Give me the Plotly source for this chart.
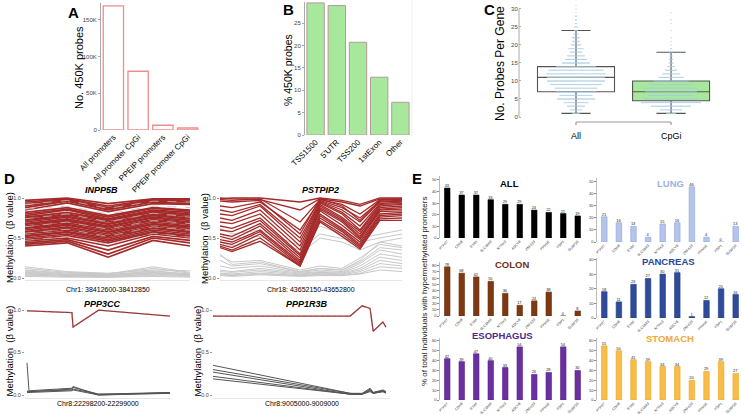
import plotly.graph_objects as go

W, H = 744, 415
FONT = "Liberation Sans"

# ---------------- Panel A ----------------
a_categories = ["All promoters", "All promoter CpGi", "PPEIP promoters", "PPEIP promoter CpGi"]
a_values = [169000, 80000, 6500, 2700]

# ---------------- Panel B ----------------
b_categories = ["TSS1500", "5'UTR", "TSS200", "1stExon", "Other"]
b_values = [29.5, 28.9, 20.7, 12.9, 7.3]

# ---------------- Panel C ----------------
c_groups = ["All", "CpGi"]
c_q1 = [7, 4.5]
c_median = [11, 7]
c_q3 = [14, 10]
c_lower = [1, 1]
c_upper = [24, 18]
c_all_values = list(range(1, 32))
c_all_counts = [8, 12, 18, 25, 38, 33, 40, 43, 52, 58, 58, 60, 55, 40, 28, 22, 18, 12, 15, 10,
                8, 8, 5, 4, 3, 2, 2, 2, 1, 1, 1]
c_cpgi_values = [1, 2, 3, 4, 5, 6, 7, 8, 9, 10, 11, 12, 13, 14, 15, 16, 17, 18, 19, 20, 21, 22, 24, 26, 27, 29]
c_cpgi_counts = [10, 22, 40, 60, 55, 45, 52, 55, 45, 35, 25, 18, 12, 8, 5, 4, 3, 3, 2, 1, 1, 1, 1, 1, 1, 1]

# ---------------- Panel D ----------------
inpp5b_pos = [38412600, 38412664, 38412726, 38412794, 38412850]
inpp5b_red = [
    [0.97, 1.00, 0.93, 0.99, 0.99], [0.95, 0.99, 0.90, 0.98, 0.98], [0.93, 0.98, 0.88, 0.97, 0.96],
    [0.90, 0.97, 0.86, 0.96, 0.95], [0.88, 0.96, 0.85, 0.95, 0.93], [0.85, 0.94, 0.83, 0.93, 0.92],
    [0.82, 0.88, 0.78, 0.88, 0.85], [0.80, 0.86, 0.76, 0.87, 0.84], [0.78, 0.85, 0.74, 0.85, 0.82],
    [0.76, 0.82, 0.73, 0.84, 0.80], [0.75, 0.80, 0.72, 0.82, 0.79], [0.73, 0.79, 0.70, 0.80, 0.77],
    [0.72, 0.77, 0.68, 0.79, 0.75], [0.70, 0.76, 0.67, 0.78, 0.74], [0.68, 0.74, 0.65, 0.76, 0.72],
    [0.67, 0.72, 0.64, 0.75, 0.70], [0.65, 0.71, 0.62, 0.73, 0.69], [0.63, 0.69, 0.60, 0.72, 0.67],
    [0.62, 0.67, 0.58, 0.70, 0.65], [0.60, 0.66, 0.57, 0.68, 0.64], [0.58, 0.64, 0.55, 0.67, 0.62],
    [0.57, 0.62, 0.53, 0.65, 0.60], [0.55, 0.60, 0.52, 0.63, 0.58], [0.53, 0.58, 0.50, 0.62, 0.57],
    [0.52, 0.57, 0.48, 0.60, 0.55], [0.50, 0.55, 0.46, 0.58, 0.53], [0.48, 0.53, 0.44, 0.57, 0.52],
    [0.46, 0.50, 0.40, 0.55, 0.50], [0.44, 0.48, 0.35, 0.52, 0.47], [0.42, 0.46, 0.30, 0.50, 0.44],
    [0.40, 0.44, 0.26, 0.47, 0.40],
]
inpp5b_gray = [
    [0.14, 0.08, 0.06, 0.10, 0.09], [0.12, 0.07, 0.05, 0.14, 0.07], [0.10, 0.06, 0.05, 0.12, 0.06],
    [0.09, 0.05, 0.04, 0.09, 0.05], [0.08, 0.04, 0.04, 0.08, 0.05], [0.07, 0.04, 0.03, 0.07, 0.04],
    [0.06, 0.03, 0.03, 0.06, 0.04], [0.05, 0.03, 0.02, 0.05, 0.03], [0.04, 0.02, 0.02, 0.04, 0.03],
    [0.03, 0.02, 0.01, 0.03, 0.02], [0.02, 0.01, 0.01, 0.02, 0.01],
]
inpp5b_gray_hi = [
    [0.86, 0.90, 0.80, 0.90, 0.88], [0.74, 0.80, 0.70, 0.81, 0.76], [0.64, 0.70, 0.61, 0.72, 0.68],
    [0.56, 0.61, 0.52, 0.64, 0.60], [0.47, 0.52, 0.42, 0.56, 0.51], [0.92, 0.97, 0.87, 0.96, 0.95],
]

pstpip2_pos = [43652150, 43652193, 43652293, 43652436, 43652507, 43652586, 43652650, 43652721, 43652800]
pstpip2_red = [
    [1.00, 0.99, 0.98, 0.85, 0.99, 0.95, 0.90, 0.99, 0.99], [0.98, 0.97, 0.99, 0.70, 0.98, 0.92, 0.80, 0.98, 0.98],
    [0.90, 0.88, 0.95, 0.60, 0.97, 0.88, 0.75, 0.96, 0.97], [0.85, 0.82, 0.92, 0.50, 0.96, 0.85, 0.70, 0.95, 0.96],
    [0.80, 0.78, 0.90, 0.45, 0.95, 0.82, 0.65, 0.93, 0.95], [0.75, 0.72, 0.85, 0.40, 0.94, 0.80, 0.60, 0.92, 0.93],
    [0.70, 0.68, 0.80, 0.35, 0.92, 0.76, 0.58, 0.90, 0.92], [0.65, 0.62, 0.75, 0.30, 0.90, 0.74, 0.55, 0.88, 0.90],
    [0.60, 0.58, 0.72, 0.28, 0.88, 0.72, 0.52, 0.86, 0.88], [0.55, 0.52, 0.68, 0.25, 0.86, 0.70, 0.50, 0.85, 0.86],
    [0.52, 0.48, 0.65, 0.22, 0.84, 0.66, 0.48, 0.83, 0.84], [0.48, 0.45, 0.60, 0.20, 0.80, 0.62, 0.45, 0.80, 0.82],
    [0.45, 0.42, 0.58, 0.18, 0.78, 0.60, 0.42, 0.78, 0.80], [0.42, 0.38, 0.55, 0.16, 0.75, 0.58, 0.40, 0.76, 0.78],
    [0.40, 0.35, 0.50, 0.15, 0.72, 0.55, 0.38, 0.74, 0.75], [0.38, 0.33, 0.46, 0.15, 0.70, 0.52, 0.36, 0.72, 0.72],
    [0.99, 1.00, 1.00, 0.95, 1.00, 0.97, 0.92, 1.00, 1.00], [0.96, 0.95, 0.97, 0.55, 0.99, 0.90, 0.72, 0.97, 0.99],
]
pstpip2_gray = [
    [0.30, 0.17, 0.20, 0.08, 0.12, 0.10, 0.22, 0.45, 0.40], [0.28, 0.20, 0.22, 0.10, 0.15, 0.12, 0.25, 0.42, 0.38],
    [0.22, 0.15, 0.18, 0.08, 0.12, 0.10, 0.20, 0.38, 0.35], [0.15, 0.12, 0.15, 0.07, 0.10, 0.08, 0.18, 0.35, 0.30],
    [0.10, 0.08, 0.12, 0.06, 0.08, 0.07, 0.15, 0.30, 0.26], [0.08, 0.07, 0.10, 0.05, 0.07, 0.06, 0.12, 0.26, 0.22],
    [0.06, 0.05, 0.08, 0.04, 0.06, 0.05, 0.10, 0.22, 0.18], [0.05, 0.04, 0.06, 0.03, 0.05, 0.04, 0.08, 0.18, 0.15],
    [0.04, 0.03, 0.05, 0.03, 0.04, 0.03, 0.06, 0.14, 0.12], [0.03, 0.02, 0.04, 0.02, 0.03, 0.03, 0.05, 0.10, 0.08],
    [0.62, 0.55, 0.60, 0.40, 0.65, 0.55, 0.50, 0.55, 0.60], [0.55, 0.50, 0.52, 0.35, 0.55, 0.50, 0.45, 0.50, 0.55],
    [0.45, 0.40, 0.45, 0.30, 0.50, 0.45, 0.35, 0.45, 0.50],
]

ppp3cc_pos = [22298211, 22298222, 22298459, 22298465, 22298606, 22299000]
ppp3cc_red = [[0.99, 0.99, 0.97, 0.80, 1.00, 0.93]]
ppp3cc_gray = [
    [0.38, 0.05, 0.08, 0.10, 0.00, 0.03], [0.05, 0.04, 0.07, 0.09, 0.01, 0.03],
    [0.04, 0.04, 0.06, 0.07, 0.01, 0.02], [0.03, 0.03, 0.05, 0.06, 0.00, 0.02],
]

ppp1r3b_pos = [9005000, 9008100, 9008370, 9008550, 9008620, 9008840, 9008910]
ppp1r3b_red = [[0.93, 0.93, 1.05, 1.02, 0.75, 0.86, 0.80]]
ppp1r3b_gray = [
    [0.35, 0.02, 0.02, 0.08, 0.03, 0.06, 0.04], [0.30, 0.02, 0.01, 0.07, 0.03, 0.05, 0.04],
    [0.27, 0.01, 0.01, 0.06, 0.02, 0.05, 0.03], [0.22, 0.01, 0.01, 0.05, 0.02, 0.04, 0.03],
    [0.19, 0.01, 0.01, 0.04, 0.02, 0.04, 0.02],
]

# ---------------- Panel E ----------------
e_genes_1 = ["PTPRT", "CDH8", "EYA4", "SLC18A3", "NTRK3", "ADCY8", "ZNF423", "PPM1E", "PDP1", "DUSP26"]
e_all = [43, 37, 37, 33, 29, 29, 24, 22, 21, 19]
e_colon = [78, 68, 62, 55, 36, 17, 24, 38, 0, 8]
e_esophagus = [42, 39, 47, 40, 33, 54, 26, 28, 54, 30]
e_genes_2 = ["PTPRT", "CDH8", "EYA4", "SLC18A3", "NTRK3", "ADCY8", "ZNF423", "PPM1E", "PDP1", "DUSP26"]
e_lung = [21, 16, 13, 4, 15, 16, 46, 4, 0, 13]
e_pancreas = [18, 11, 23, 27, 30, 31, 1, 12, 20, 16]
e_stomach = [55, 50, 41, 39, 34, 34, 20, 29, 39, 27]


def dx(x0, x1):
    return [x0 / W, x1 / W]


def dy(y0, y1):
    return [1 - y1 / H, 1 - y0 / H]


def py(y):
    return 1 - y / H


def px(x):
    return x / W


fig = go.Figure()
layout = dict(
    template="none",
    width=W, height=H, margin=dict(l=0, r=0, t=0, b=0, pad=0, autoexpand=False),
    paper_bgcolor="white", plot_bgcolor="white", showlegend=False,
    font=dict(family=FONT, color="black"),
    bargap=0.2,
)
ann = []
shapes = []


def note(x, y, text, size, color="black", angle=0, xref="paper"):
    ann.append(dict(x=x, y=py(y), xref=xref, yref="paper", text=text, textangle=angle, showarrow=False,
                    xanchor="center", yanchor="middle", font=dict(size=size, color=color)))


# ---- A
fig.add_trace(go.Bar(x=a_categories, y=a_values, xaxis="x", yaxis="y",
                     marker=dict(color="white", line=dict(color="#f08c8c", width=1.3)),
                     width=0.82, hoverinfo="skip"))
layout["xaxis"] = dict(domain=dx(101, 200), anchor="y", tickangle=-45, tickfont=dict(size=8),
                       showline=False, ticks="", showgrid=False, automargin=False)
layout["yaxis"] = dict(domain=dy(3, 130), anchor="x", range=[0, 173000], tickvals=[0, 50000, 100000, 150000],
                       ticktext=["0", "50K", "100K", "150K"], tickfont=dict(size=6, color="#444"),
                       showline=True, linecolor="#aaa", ticks="outside", ticklen=2, tickcolor="#aaa",
                       showgrid=False, zeroline=False, automargin=False)
note(px(79), 68, "No. 450K probes", 11, angle=-90)
note(px(73), 12, "<b>A</b>", 15)

# ---- B
fig.add_trace(go.Bar(x=b_categories, y=b_values, xaxis="x2", yaxis="y2",
                     marker=dict(color="#a8e89c", line=dict(color="#b49a9a", width=1)),
                     width=0.82, hoverinfo="skip"))
layout["xaxis2"] = dict(domain=dx(305, 411), anchor="y2", tickangle=-45, tickfont=dict(size=8),
                        showline=False, ticks="", showgrid=False, automargin=False)
layout["yaxis2"] = dict(domain=dy(2, 135), anchor="x2", range=[0, 29.7], tickvals=[0, 5, 10, 15, 20, 25],
                        tickfont=dict(size=6, color="#444"), showline=True, linecolor="#aaa",
                        ticks="outside", ticklen=2, tickcolor="#aaa", showgrid=False, zeroline=False,
                        automargin=False)
shapes.append(dict(type="line", xref="paper", yref="paper", x0=px(412), x1=px(412), y0=py(0), y1=py(135),
                   line=dict(color="#eeeeee", width=1)))
note(px(288), 70, "% 450K probes", 10.5, angle=-90)
note(px(288), 10, "<b>B</b>", 15)

# ---- C
box_fill = ["white", "#a8e89c"]
for i in range(2):
    fig.add_trace(go.Box(x=[i], q1=[c_q1[i]], median=[c_median[i]], q3=[c_q3[i]],
                         lowerfence=[c_lower[i]], upperfence=[c_upper[i]], xaxis="x3", yaxis="y3",
                         width=0.81, whiskerwidth=0.38, fillcolor=box_fill[i],
                         line=dict(color="#555", width=1.1), boxpoints=False, hoverinfo="skip"))


def swarm(center, values, counts, step=0.0105):
    xs, ys = [], []
    for v, n in zip(values, counts):
        for k in range(n):
            xs.append(center + (k - (n - 1) / 2) * step)
            ys.append(v)
    return xs, ys


for i, (vals, cnts) in enumerate([(c_all_values, c_all_counts), (c_cpgi_values, c_cpgi_counts)]):
    sx, sy = swarm(i, vals, cnts)
    fig.add_trace(go.Scatter(x=sx, y=sy, mode="markers", xaxis="x3", yaxis="y3",
                             marker=dict(size=1.3, color="#a6c9e2", opacity=0.85), hoverinfo="skip"))
layout["xaxis3"] = dict(domain=dx(522, 730), anchor="y3", range=[-0.568, 1.62], visible=False)
layout["yaxis3"] = dict(domain=dy(5, 117), anchor="x3", range=[0, 31.1], tickvals=[0, 5, 10, 15, 20, 25, 30],
                        tickfont=dict(size=6, color="#444"), showline=False, ticks="outside", ticklen=2,
                        tickcolor="#aaa", showgrid=False, zeroline=False, automargin=False)
shapes.append(dict(type="line", xref="paper", yref="paper", x0=px(519), x1=px(519), y0=py(9), y1=py(117),
                   line=dict(color="#aaa", width=1)))
shapes.append(dict(type="line", xref="x3", yref="paper", x0=0, x1=1, y0=py(122), y1=py(122),
                   line=dict(color="#999", width=1.2)))
for i in range(2):
    shapes.append(dict(type="line", xref="x3", yref="paper", x0=i, x1=i, y0=py(122), y1=py(125),
                       line=dict(color="#999", width=1.2)))
    note(i, 136, c_groups[i], 9, xref="x3")
note(px(500), 63, "No. Probes Per Gene", 12, angle=-90)
note(px(489), 10, "<b>C</b>", 15)


# ---- D
def lines_xy(pos, rows):
    xs, ys = [], []
    for r in rows:
        xs += list(pos) + [None]
        ys += list(r) + [None]
    return xs, ys


RED = "#a52a2a"
GRAY = "#c8c8c8"
d_specs = [
    ("x4", "y4", inpp5b_pos, inpp5b_red, inpp5b_gray, inpp5b_gray_hi, "INPP5B", "Chr1: 38412600-38412850",
     (25, 190), (196, 280), [38412600, 38412850], [-0.025, 1.025], 190, 289, 102),
    ("x5", "y5", pstpip2_pos, pstpip2_red, pstpip2_gray, [], "PSTPIP2", "Chr18: 43652150-43652800",
     (220, 402), (196, 280), [43652150, 43652800], [-0.025, 1.025], 190, 289, 320),
    ("x6", "y6", ppp3cc_pos, ppp3cc_red, ppp3cc_gray, [], "PPP3CC", "Chr8:22298200-22299000",
     (25, 170), (305, 398), [22298200, 22299000], [-0.035, 1.06], 304, 403, 103),
    ("x7", "y7", ppp1r3b_pos, ppp1r3b_red, ppp1r3b_gray, [], "PPP1R3B", "Chr8:9005000-9009000",
     (213, 390), (305, 398), [9005000, 9009000], [-0.035, 1.06], 304, 403, 307),
]
for (xa, ya, pos, red, gray, gray_hi, title, region, xd, ydm, xr, yr, ty, ry, tx) in d_specs:
    gcol = GRAY if xa in ("x4", "x5") else "#555"
    gx, gy = lines_xy(pos, gray)
    fig.add_trace(go.Scatter(x=gx, y=gy, mode="lines", xaxis=xa, yaxis=ya,
                             line=dict(color=gcol, width=1), hoverinfo="skip"))
    rx, ry_ = lines_xy(pos, red)
    fig.add_trace(go.Scatter(x=rx, y=ry_, mode="lines", xaxis=xa, yaxis=ya,
                             line=dict(color=RED, width=1.7 if xa == "x4" else 1.3), hoverinfo="skip"))
    if gray_hi:
        hx, hy = lines_xy(pos, gray_hi)
        fig.add_trace(go.Scatter(x=hx, y=hy, mode="lines", xaxis=xa, yaxis=ya,
                                 line=dict(color="#bbbbbb", width=0.8, dash="dash"), hoverinfo="skip"))
    if xa in ("x6", "x7"):
        fig.add_trace(go.Scatter(x=rx, y=ry_, mode="lines", xaxis=xa, yaxis=ya,
                                 line=dict(color="#777", width=0.6, dash="dot"), hoverinfo="skip"))
    n = xa[1:]
    layout["xaxis" + n] = dict(domain=dx(*xd), anchor=ya, range=xr, showticklabels=False, ticks="",
                               showgrid=False, zeroline=False, showline=True, linecolor="#e6e6e6",
                               automargin=False)
    layout["yaxis" + n] = dict(domain=dy(*ydm), anchor=xa, range=yr, tickvals=[0, 0.5, 1.0],
                               ticktext=["0.0", "0.5", "1.0"], tickfont=dict(size=5.5, color="#444"),
                               ticks="outside", ticklen=2, tickcolor="#999", showline=False,
                               showgrid=False, zeroline=False, automargin=False)
    note(px(tx), ty, "<b><i>%s</i></b>" % title, 9)
    note(px((xd[0] + xd[1]) / 2), ry, region, 7)
    note(px(xd[0] - 16), (ydm[0] + ydm[1]) / 2, "Methylation  (\u03b2 value)", 9.5, angle=-90)
note(px(9), 178, "<b>D</b>", 15)

# ---- E
e_specs = [
    ("x8", "y8", e_genes_1, e_all, "ALL", "#000000", "#000000", "#000000", (440, 585), (176, 238), 53.4,
     [0, 10, 20, 30, 40, 50], 510, 183),
    ("x9", "y9", e_genes_2, e_lung, "LUNG", "#b4c4ea", "#8ea4dc", "#9cb2e2", (597, 743), (178, 242), 53.3,
     [0, 10, 20, 30, 40, 50], 670, 184),
    ("x10", "y10", e_genes_1, e_colon, "COLON", "#7d3a12", "#6a300e", "#6e3216", (440, 585), (262, 316), 85.7,
     [0, 10, 20, 30, 40, 50, 60, 70, 80], 512, 264),
    ("x11", "y11", e_genes_2, e_pancreas, "PANCREAS", "#2f4b9a", "#243e88", "#2a4596", (597, 743), (258, 318),
     41.0, [0, 10, 20, 30, 40], 668, 261),
    ("x12", "y12", e_genes_1, e_esophagus, "ESOPHAGUS", "#6b30a0", "#58258a", "#4a2a88", (440, 585), (338, 400),
     63.0, [0, 10, 20, 30, 40, 50, 60], 503, 335),
    ("x13", "y13", e_genes_2, e_stomach, "STOMACH", "#f6bd48", "#f0a41e", "#f2a636", (597, 743), (338, 400),
     63.0, [0, 10, 20, 30, 40, 50, 60], 670, 338),
]
for (xa, ya, genes, vals, title, fill, edge, tcol, xd, ydm, ymax, tv, tx, ty) in e_specs:
    fig.add_trace(go.Bar(x=genes, y=vals, xaxis=xa, yaxis=ya, text=[str(v) for v in vals],
                         textposition="outside", textfont=dict(size=4, color="#222"), cliponaxis=False,
                         marker=dict(color=fill, line=dict(color=edge, width=0.6)), width=0.38,
                         hoverinfo="skip"))
    n = xa[1:]
    layout["xaxis" + n] = dict(domain=dx(*xd), anchor=ya, tickangle=-45, tickfont=dict(size=3.5, color="#333"),
                               ticks="", showline=False, showgrid=False, automargin=False)
    layout["yaxis" + n] = dict(domain=dy(*ydm), anchor=xa, range=[0, ymax], tickvals=tv,
                               tickfont=dict(size=4, color="#333"), ticks="outside", ticklen=2,
                               tickcolor="#888", showline=True, linecolor="#bbb", linewidth=0.6,
                               showgrid=False, zeroline=False, automargin=False)
    note(px(tx), ty, "<b>%s</b>" % title, 9.5, color=tcol)
note(px(424), 292, "% of total Individuals with hypermethylated promoters", 8, color="#222", angle=-90)
note(px(417), 178, "<b>E</b>", 15)

layout["annotations"] = ann
layout["shapes"] = shapes
fig.update_layout(**layout)
fig.write_html("out.html", config={"displayModeBar": False},
               post_script="document.body.style.margin='0px';document.body.style.padding='0px';")
